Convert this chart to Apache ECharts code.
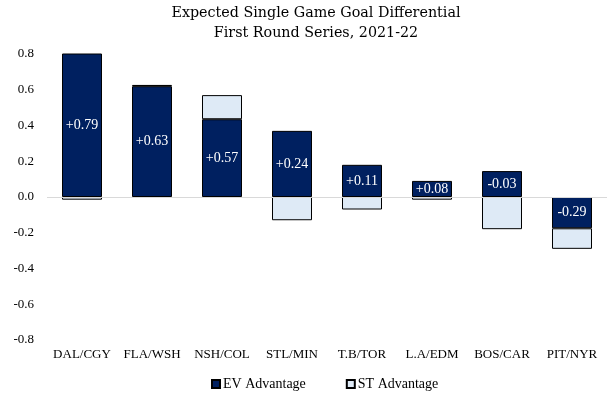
<!DOCTYPE html>
<html><head><meta charset="utf-8">
<script src="https://cdn.jsdelivr.net/npm/echarts@6/dist/echarts.min.js"></script>
<style>html,body{margin:0;padding:0;background:#fff}#c{width:615px;height:408px}</style>
</head><body><div id="c"></div>
<script>
var categories = ['DAL/CGY','FLA/WSH','NSH/COL','STL/MIN','T.B/TOR','L.A/EDM','BOS/CAR','PIT/NYR'];
var evAdvantage = [0.805, 0.62, 0.435, 0.37, 0.18, 0.09, 0.145, -0.175];
var stAdvantage = [-0.015, 0.007, 0.135, -0.13, -0.07, -0.015, -0.18, -0.115];
var totalLabels = ['+0.79','+0.63','+0.57','+0.24','+0.11','+0.08','-0.03','-0.29'];
var yTicks = {min: -0.8, max: 0.8, interval: 0.2};

var FONT = 'Liberation Serif';
var TFONT = 'DejaVu Serif';
var chart = echarts.init(document.getElementById('c'), null, {renderer: 'canvas'});
chart.setOption({
  animation: false,
  backgroundColor: '#fff',
  title: {
    text: 'Expected Single Game Goal Differential\nFirst Round Series, 2021-22',
    left: 311, top: -2, textAlign: 'center',
    textStyle: {fontFamily: TFONT, fontSize: 14.3, fontWeight: 'normal', color: '#000', lineHeight: 20}
  },
  legend: {
    bottom: 12, left: 206, itemWidth: 8, itemHeight: 8, itemGap: 40,
    textStyle: {fontFamily: FONT, fontSize: 14, color: '#000', padding: [0, 0, 0, -2]},
    data: [{name: 'EV Advantage', icon: 'rect'}, {name: 'ST Advantage', icon: 'rect'}]
  },
  grid: {left: 47, right: 8, top: 54, bottom: 68},
  xAxis: {
    type: 'category', data: categories,
    axisLine: {show: false}, axisTick: {show: false},
    axisLabel: {fontFamily: FONT, fontSize: 13, color: '#000', margin: 8, interval: 0}
  },
  yAxis: {
    type: 'value', min: yTicks.min, max: yTicks.max, interval: yTicks.interval,
    splitLine: {show: false}, axisLine: {show: false}, axisTick: {show: false},
    axisLabel: {fontFamily: FONT, fontSize: 13, color: '#000', margin: 13,
      formatter: function (v) { return v.toFixed(1); }}
  },
  series: [
    {
      name: 'EV Advantage', type: 'bar', stack: 'a', data: evAdvantage, barWidth: 40,
      itemStyle: {color: '#002060', borderColor: '#000', borderWidth: 1},
      label: {show: true, position: 'inside', color: '#fff', fontFamily: FONT, fontSize: 14,
        formatter: function (p) { return totalLabels[p.dataIndex]; }},
      markLine: {silent: true, symbol: 'none', label: {show: false},
        lineStyle: {color: '#d9d9d9', type: 'solid', width: 1}, data: [{yAxis: 0}]},
      z: 2
    },
    {
      name: 'ST Advantage', type: 'bar', stack: 'a', data: stAdvantage, barWidth: 40,
      itemStyle: {color: '#DEEAF6', borderColor: '#000', borderWidth: 1},
      z: 2
    }
  ]
});
</script></body></html>
